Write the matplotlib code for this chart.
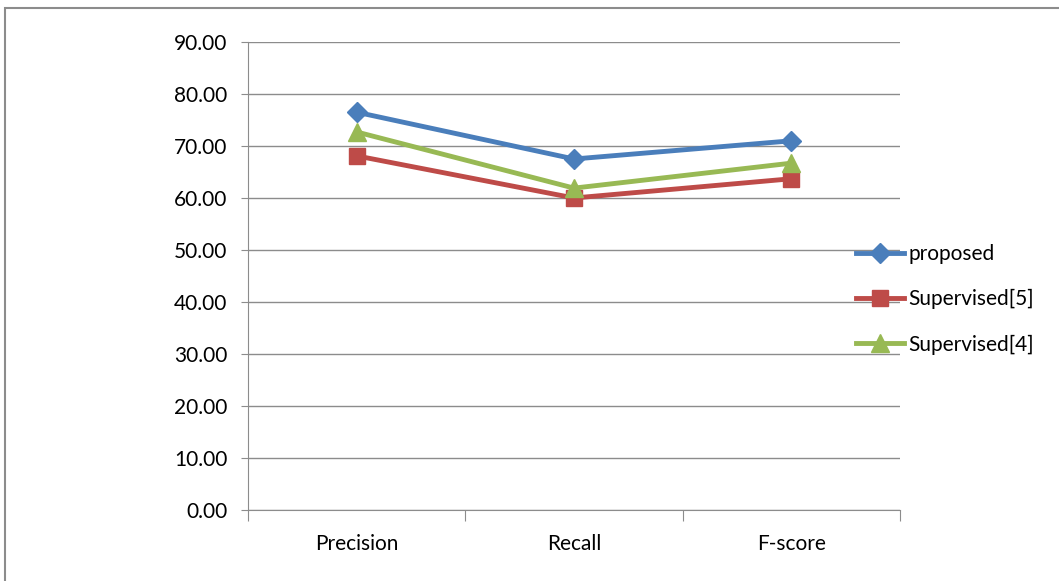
import matplotlib.pyplot as plt
from matplotlib.patches import Rectangle

plt.rcParams['font.family'] = ['Lato', 'DejaVu Sans']

categories = ["Precision", "Recall", "F-score"]
proposed = [76.5, 67.5, 71.0]
supervised5 = [68.1, 60.0, 63.7]
supervised4 = [72.7, 61.9, 66.7]
y_ticks = [0, 10, 20, 30, 40, 50, 60, 70, 80, 90]

fig = plt.figure(figsize=(10.59, 5.81), dpi=100)
ax = fig.add_axes([248 / 1059, 1 - 510 / 581, (900 - 248) / 1059, (510 - 42) / 581])

# outer chart border (top and left edges visible)
fig.patches.append(Rectangle((5 / 1059, -0.1), 1.2, 1 - 8 / 581 + 0.1,
                             transform=fig.transFigure, fill=False,
                             ec="#8c8c8c", lw=1.5))

x = range(len(categories))
ax.plot(x, proposed, color="#4a7ebb", lw=3.5, marker="D", ms=10,
        mec="#4a7ebb", label="proposed")
ax.plot(x, supervised5, color="#be4b48", lw=3.5, marker="s", ms=12,
        mec="#be4b48", label="Supervised[5]")
ax.plot(x, supervised4, color="#98b954", lw=3.5, marker="^", ms=13,
        mec="#98b954", label="Supervised[4]")

ax.set_xlim(-0.5, 2.5)
ax.set_ylim(0, 90)
ax.set_yticks(y_ticks)
ax.set_yticklabels([f"{v:.2f}" for v in y_ticks])
ax.set_xticks([-0.5, 0.5, 1.5, 2.5], minor=False)
ax.set_xticklabels([])
ax.set_xticks(list(x), minor=True)
ax.set_xticklabels(categories, minor=True)
ax.tick_params(axis="x", which="minor", length=0, pad=17, labelsize=15)
ax.tick_params(axis="x", which="major", length=8, color="#8c8c8c")
ax.tick_params(axis="y", length=5, color="#8c8c8c", labelsize=15, pad=10)

ax.grid(axis="y", color="#8c8c8c", lw=1)
ax.set_axisbelow(True)
for side in ("top", "right"):
    ax.spines[side].set_visible(False)
for side in ("left", "bottom"):
    ax.spines[side].set_color("#8c8c8c")

ax.legend(loc="center left", bbox_to_anchor=(0.92, 0.45), frameon=False,
          fontsize=15, handlelength=2.3, handletextpad=0.2,
          labelspacing=1.2, borderaxespad=0)

fig.savefig("out.png", dpi=100)
